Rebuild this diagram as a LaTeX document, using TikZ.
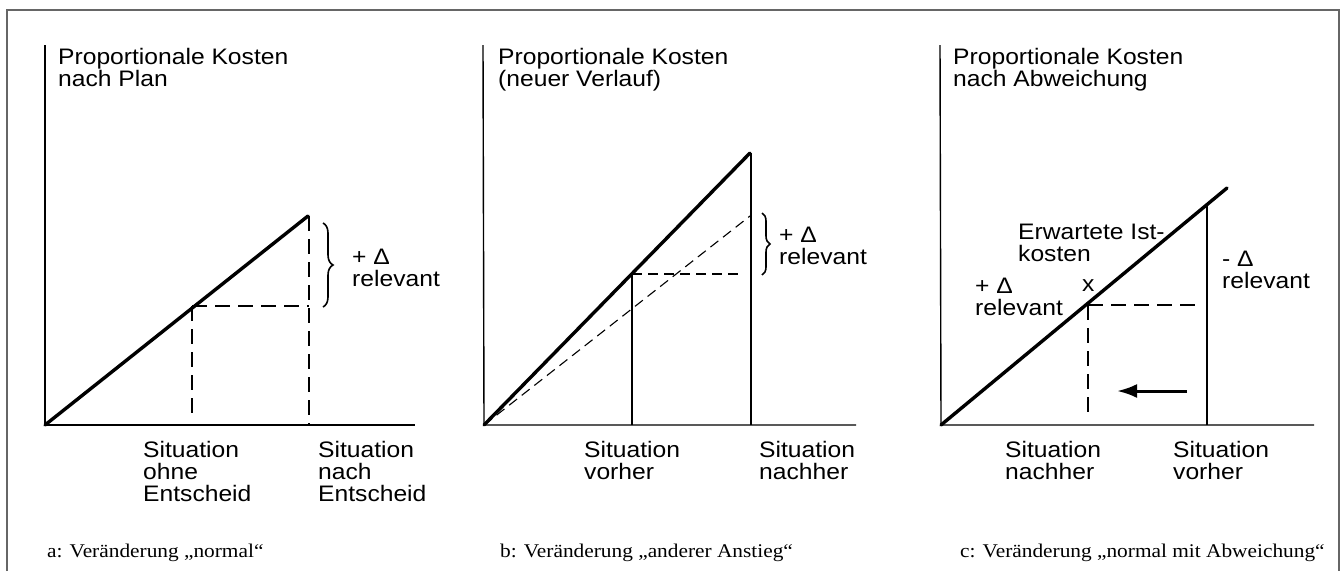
\documentclass[tikz,border=0pt]{standalone}
\usepackage{fontspec}
\usetikzlibrary{arrows.meta,decorations.pathreplacing}
\newfontfamily\hv[FakeStretch=1.1]{Liberation Sans}
\newfontfamily\tm[FakeStretch=1.1]{Liberation Serif}
\begin{document}
\begin{tikzpicture}[x=1pt,y=-1pt,
  lbl/.style={anchor=base west,inner sep=0pt,align=left,font=\hv\fontsize{22.4}{22}\selectfont},
  captxt/.style={anchor=base west,inner sep=0pt,font=\tm\fontsize{19.4}{20}\selectfont},
  axis/.style={line width=1.4pt},
  thickln/.style={line width=3.4pt,line cap=round},
  thinv/.style={line width=1.2pt},
  dsh/.style={line width=1.2pt,dash pattern=on 15pt off 8pt},
  dshb/.style={line width=1.1pt,dash pattern=on 10pt off 6pt},
  brc/.style={line width=1.6pt,decorate,decoration={brace,amplitude=10pt}},
  frame/.style={line width=1.2pt,draw=black!60}]
\useasboundingbox (0,0) rectangle (1343,571);
\draw[frame] (7,571) -- (7,10) -- (1339,10) -- (1339,571);

% ---------- panel a ----------
\coordinate (aTop) at (45,45);
\coordinate (aO) at (45,425);
\coordinate (aR) at (415,425);
\coordinate (aE) at (308,216);
\coordinate (aM) at (192,306);
\coordinate (aMb) at (192,418);
\coordinate (aH) at (309,306);
\coordinate (aV) at (309,216);
\coordinate (aVb) at (309,425);
\draw[axis] (aTop) -- (aO) -- (aR);
\draw[dsh] (aM) -- (aMb);
\draw[dsh] (aM) -- (aH);
\draw[dsh] (aV) -- (aVb);
\draw[thickln] (aO) -- (aE);
\coordinate (aB1) at (323,223);
\coordinate (aB2) at (323,307);
\draw[brc] (aB1) -- (aB2);
\node[lbl] (aT) at (58,86) {Proportionale Kosten\\nach Plan};
\node[lbl] (aD) at (352,286) {+ Δ\\relevant};
\node[lbl] (aS1) at (143,501) {Situation\\ohne\\Entscheid};
\node[lbl] (aS2) at (318,501) {Situation\\nach\\Entscheid};
\node[captxt] (aC) at (47,557) {a: Veränderung „normal“};

% ---------- panel b ----------
\coordinate (bTop) at (483,45);
\coordinate (bO) at (484,425);
\coordinate (bR) at (856,425);
\coordinate (bE) at (750,153);
\coordinate (bD) at (750,216);
\coordinate (bM) at (632,274);
\coordinate (bMb) at (632,425);
\coordinate (bH) at (742,274);
\coordinate (bVb) at (751,425);
\coordinate (bVt) at (751,153);
\draw[axis] (bTop) -- (bO) -- (bR);
\draw[thinv] (bM) -- (bMb);
\draw[thinv] (bVt) -- (bVb);
\draw[dshb] (bM) -- (bH);
\draw[dshb] (bO) -- (bD);
\draw[thickln] (bO) -- (bE);
\coordinate (bB1) at (762,213);
\coordinate (bB2) at (762,275);
\draw[brc,decoration={brace,amplitude=8pt}] (bB1) -- (bB2);
\node[lbl] (bT) at (498,86) {Proportionale Kosten\\(neuer Verlauf)};
\node[lbl] (bDl) at (779,264) {+ Δ\\relevant};
\node[lbl] (bS1) at (584,479) {Situation\\vorher};
\node[lbl] (bS2) at (759,479) {Situation\\nachher};
\node[captxt] (bC) at (500,557) {b: Veränderung „anderer Anstieg“};

% ---------- panel c ----------
\coordinate (cTop) at (940,45);
\coordinate (cO) at (941,425);
\coordinate (cR) at (1314,425);
\coordinate (cE) at (1227,188);
\coordinate (cM) at (1088,305);
\coordinate (cMb) at (1088,418);
\coordinate (cH) at (1198,305);
\coordinate (cVt) at (1207,206);
\coordinate (cVb) at (1207,425);
\draw[axis] (cTop) -- (cO) -- (cR);
\draw[thinv] (cVt) -- (cVb);
\draw[dsh] (cM) -- (cMb);
\draw[dsh] (cM) -- (cH);
\draw[thickln] (cO) -- (cE);
\coordinate (cA1) at (1187,391);
\coordinate (cA2) at (1117,391);
\draw[line width=3pt,-{Latex[length=20pt,width=14pt]}] (cA1) -- (cA2);
\node[lbl] (cT) at (953,86) {Proportionale Kosten\\nach Abweichung};
\node[lbl] (cK) at (1018,261) {Erwartete Ist-\\kosten};
\node[lbl] (cP) at (975,315) {+ Δ\\relevant};
\node[lbl] (cX) at (1082,291) {x};
\node[lbl] (cN) at (1222,288) {- Δ\\relevant};
\node[lbl] (cS1) at (1005,479) {Situation\\nachher};
\node[lbl] (cS2) at (1173,479) {Situation\\vorher};
\node[captxt] (cC) at (960,557) {c: Veränderung „normal mit Abweichung“};
\end{tikzpicture}
\end{document}
